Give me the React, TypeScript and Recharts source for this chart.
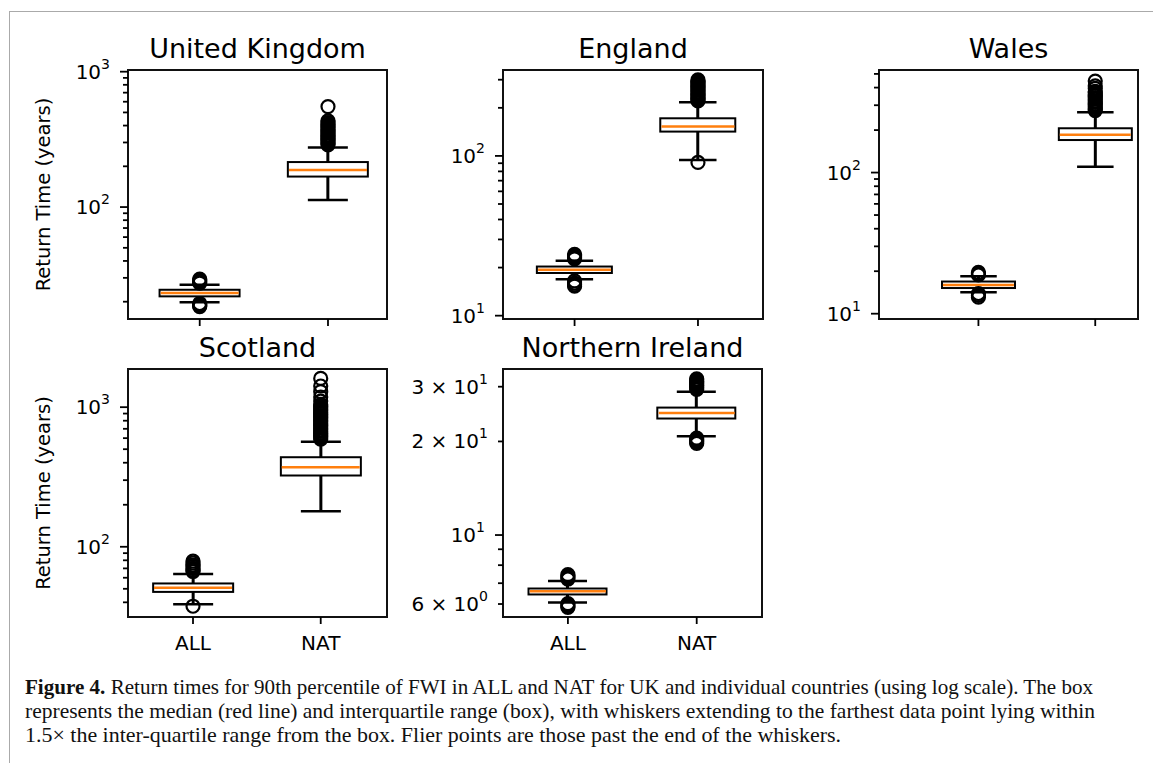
import React from "react"
import { ComposedChart, Bar, Scatter, XAxis, YAxis, ReferenceArea } from "recharts"

const groups = ["ALL", "NAT"]
const positions = [1, 2]

// United Kingdom
const ukLow = [19.8, 113]
const ukQ1 = [21.9, 168]
const ukMedian = [23.2, 188]
const ukQ3 = [24.5, 215]
const ukHigh = [26.7, 275]
const ukAllFliers = [27.4, 27.9, 28.4, 28.9, 29.4, 19.4, 19.0, 18.7, 18.4]
const ukNatFliers = [288, 295, 303, 310, 318, 326, 334, 342, 351, 360, 369, 378, 388, 398, 408, 420, 433, 552]

// England
const enLow = [16.9, 94.4]
const enQ1 = [18.5, 142]
const enMedian = [19.4, 153]
const enQ3 = [20.3, 172]
const enHigh = [22.1, 217]
const enAllFliers = [22.7, 23.2, 23.7, 24.2, 16.5, 16.0, 15.6, 15.3]
const enNatFliers = [221, 225, 229, 234, 238, 243, 247, 252, 257, 262, 267, 272, 277, 282, 288, 293, 299, 91]

// Wales
const waLow = [14.2, 110]
const waQ1 = [15.2, 170]
const waMedian = [16.0, 185]
const waQ3 = [16.9, 206]
const waHigh = [18.4, 267]
const waAllFliers = [18.8, 19.2, 19.6, 13.9, 13.5, 13.1]
const waNatFliers = [275, 282, 290, 298, 306, 314, 322, 331, 340, 349, 358, 367, 376, 395, 411, 445]

// Scotland
const scLow = [38.8, 180]
const scQ1 = [47.5, 324]
const scMedian = [50.8, 372]
const scQ3 = [54.6, 438]
const scHigh = [63.7, 565]
const scAllFliers = [66.5, 68, 70, 72, 74, 76.5, 79, 37.5]
const scNatFliers = [590, 606, 622, 637, 654, 671, 689, 707, 726, 745, 765, 785, 806, 827, 849, 871, 894, 918, 942, 967, 993, 1019, 1046, 1106, 1182, 1291, 1418, 1607]

// Northern Ireland
const niLow = [6.07, 20.8]
const niQ1 = [6.44, 23.7]
const niMedian = [6.59, 24.7]
const niQ3 = [6.73, 25.7]
const niHigh = [7.12, 28.9]
const niAllFliers = [7.22, 7.3, 7.38, 7.46, 6.02, 5.96, 5.9, 5.85]
const niNatFliers = [29.4, 29.7, 30.0, 30.3, 30.6, 30.9, 31.2, 31.5, 31.8, 20.5, 20.3, 20.1, 19.9, 19.7]

// y ticks
const ukMajorTicks = [100, 1000]
const ukMinorTicks = [20, 30, 40, 50, 60, 70, 80, 90, 200, 300, 400, 500, 600, 700, 800, 900]
const enMajorTicks = [10, 100]
const enMinorTicks = [20, 30, 40, 50, 60, 70, 80, 90, 200, 300]
const waMajorTicks = [10, 100]
const waMinorTicks = [20, 30, 40, 50, 60, 70, 80, 90, 200, 300, 400, 500]
const scMajorTicks = [100, 1000]
const scMinorTicks = [40, 50, 60, 70, 80, 90, 200, 300, 400, 500, 600, 700, 800, 900]
const niMajorTicks = [10]
const niMinorTicks = [6, 7, 8, 9, 20, 30]
const niLabelledMinor = [6, 20, 30]

const captionLines = [
  "Return times for 90th percentile of FWI in ALL and NAT for UK and individual countries (using log scale). The box",
  "represents the median (red line) and interquartile range (box), with whiskers extending to the farthest data point lying within",
  "1.5× the inter-quartile range from the box. Flier points are those past the end of the whiskers.",
]
const captionWidths = [1068, 1070, 816]

const Y_W = 120
const M_TOP = 24
const M_RIGHT = 10
const X_H = 50
const SANS = "DejaVu Sans"
const SERIF = "Liberation Serif"

type Panel = {
  title: string
  left: number
  top: number
  width: number
  height: number
  xDomain: [number, number]
  yDomain: [number, number]
  boxWidth: number
  low: number[]
  q1: number[]
  median: number[]
  q3: number[]
  high: number[]
  allFliers: number[]
  natFliers: number[]
  majorTicks: number[]
  minorTicks: number[]
  labelledMinor: number[]
  showXLabels: boolean
}

const panels: Panel[] = [
  {
    title: "United Kingdom", left: 128, top: 70, width: 259, height: 249,
    xDomain: [0.441, 2.46], yDomain: [14.9, 1029], boxWidth: 80,
    low: ukLow, q1: ukQ1, median: ukMedian, q3: ukQ3, high: ukHigh,
    allFliers: ukAllFliers, natFliers: ukNatFliers,
    majorTicks: ukMajorTicks, minorTicks: ukMinorTicks, labelledMinor: [], showXLabels: false,
  },
  {
    title: "England", left: 503, top: 70, width: 260, height: 249,
    xDomain: [0.42, 2.527], yDomain: [9.53, 345], boxWidth: 75,
    low: enLow, q1: enQ1, median: enMedian, q3: enQ3, high: enHigh,
    allFliers: enAllFliers, natFliers: enNatFliers,
    majorTicks: enMajorTicks, minorTicks: enMinorTicks, labelledMinor: [], showXLabels: false,
  },
  {
    title: "Wales", left: 879, top: 70, width: 259, height: 249,
    xDomain: [0.149, 2.366], yDomain: [9.17, 533], boxWidth: 73,
    low: waLow, q1: waQ1, median: waMedian, q3: waQ3, high: waHigh,
    allFliers: waAllFliers, natFliers: waNatFliers,
    majorTicks: waMajorTicks, minorTicks: waMinorTicks, labelledMinor: [], showXLabels: false,
  },
  {
    title: "Scotland", left: 128, top: 369, width: 259, height: 248,
    xDomain: [0.491, 2.519], yDomain: [31.4, 1877], boxWidth: 80,
    low: scLow, q1: scQ1, median: scMedian, q3: scQ3, high: scHigh,
    allFliers: scAllFliers, natFliers: scNatFliers,
    majorTicks: scMajorTicks, minorTicks: scMinorTicks, labelledMinor: [], showXLabels: true,
  },
  {
    title: "Northern Ireland", left: 503, top: 369, width: 259, height: 248,
    xDomain: [0.496, 2.507], yDomain: [5.45, 34.2], boxWidth: 78,
    low: niLow, q1: niQ1, median: niMedian, q3: niQ3, high: niHigh,
    allFliers: niAllFliers, natFliers: niNatFliers,
    majorTicks: niMajorTicks, minorTicks: niMinorTicks, labelledMinor: niLabelledMinor, showXLabels: true,
  },
]

function sciLabel(v: number) {
  const exp = Math.floor(Math.log10(v) + 1e-9)
  const m = Math.round(v / Math.pow(10, exp))
  return { base: m === 1 ? "10" : `${m} × 10`, exp: String(exp) }
}

function LogTick(props: any) {
  const { x, y, payload, majors, labelled } = props
  const v = payload.value
  const isMajor = majors.includes(v)
  const len = isMajor ? 8 : 5
  const showLabel = isMajor || labelled.includes(v)
  const lab = sciLabel(v)
  return (
    <g>
      <line x1={x - len} x2={x} y1={y} y2={y} stroke="#000" strokeWidth={1.8} />
      {showLabel && (
        <text x={x - len - 10} y={y + 7} textAnchor="end" fontFamily={SANS} fontSize={20} fill="#000">
          {lab.base}
          <tspan dy={-10} fontSize={14}>{lab.exp}</tspan>
        </text>
      )}
    </g>
  )
}

function XTick(props: any) {
  const { x, y, payload, show } = props
  if (!show) return <g />
  return (
    <text x={x} y={y + 26} textAnchor="middle" fontFamily={SANS} fontSize={20} fill="#000">
      {groups[payload.value - 1]}
    </text>
  )
}

function WhiskerShape(props: any) {
  const { x, y, width, height } = props
  const top = Math.min(y, y + height)
  const bottom = Math.max(y, y + height)
  const cx = x + width / 2
  const cap = width / 4
  return (
    <g>
      <line x1={cx} x2={cx} y1={top} y2={bottom} stroke="#000" strokeWidth={3} />
      <line x1={cx - cap} x2={cx + cap} y1={top} y2={top} stroke="#000" strokeWidth={2.5} />
      <line x1={cx - cap} x2={cx + cap} y1={bottom} y2={bottom} stroke="#000" strokeWidth={2.5} />
    </g>
  )
}

function BoxShape(props: any) {
  const { x, y, width, height } = props
  return (
    <rect
      x={x}
      y={Math.min(y, y + height)}
      width={width}
      height={Math.abs(height)}
      fill="#fff"
      stroke="#000"
      strokeWidth={2}
    />
  )
}

function BoxPanel({ p }: { p: Panel }) {
  const rows = positions.map((x, i) => ({
    x,
    whisker: [p.low[i], p.high[i]],
    box: [p.q1[i], p.q3[i]],
    median: p.median[i],
  }))
  const fliers = [
    ...p.allFliers.map((y) => ({ x: positions[0], y })),
    ...p.natFliers.map((y) => ({ x: positions[1], y })),
  ]
  const half = p.boxWidth / 2

  return (
    <div style={{ position: "absolute", left: p.left - Y_W, top: p.top - M_TOP }}>
      <ComposedChart
        width={Y_W + p.width + M_RIGHT}
        height={M_TOP + p.height + X_H}
        data={rows}
        margin={{ top: M_TOP, right: M_RIGHT, bottom: 0, left: 0 }}
      >
        <XAxis
          xAxisId="main"
          dataKey="x"
          type="number"
          domain={p.xDomain}
          allowDataOverflow
          ticks={positions}
          interval={0}
          height={X_H}
          axisLine={false}
          stroke="#000"
          tickLine={{ stroke: "#000", strokeWidth: 1.8 }}
          tickSize={7}
          tickMargin={0}
          tick={<XTick show={p.showXLabels} />}
        />
        <XAxis xAxisId="w" dataKey="x" type="number" domain={p.xDomain} allowDataOverflow hide height={0} />
        <XAxis xAxisId="b" dataKey="x" type="number" domain={p.xDomain} allowDataOverflow hide height={0} />
        <YAxis
          type="number"
          scale="log"
          domain={p.yDomain}
          allowDataOverflow
          ticks={[...p.minorTicks, ...p.majorTicks]}
          interval={0}
          width={Y_W}
          axisLine={false}
          tickLine={false}
          tickSize={0}
          tickMargin={0}
          tick={<LogTick majors={p.majorTicks} labelled={p.labelledMinor} />}
        />
        <Bar xAxisId="w" dataKey="whisker" barSize={p.boxWidth} shape={WhiskerShape} isAnimationActive={false} />
        <Bar xAxisId="b" dataKey="box" barSize={p.boxWidth} shape={BoxShape} isAnimationActive={false} />
        <Scatter
          xAxisId="main"
          dataKey="median"
          isAnimationActive={false}
          shape={(s: any) => (
            <line x1={s.cx - half + 1} x2={s.cx + half - 1} y1={s.cy} y2={s.cy} stroke="#ff7f0e" strokeWidth={2.5} />
          )}
        />
        <Scatter
          xAxisId="main"
          data={fliers}
          dataKey="y"
          isAnimationActive={false}
          shape={(s: any) => <circle cx={s.cx} cy={s.cy} r={6.5} fill="none" stroke="#000" strokeWidth={2.2} />}
        />
        <ReferenceArea
          xAxisId="main"
          x1={p.xDomain[0]}
          x2={p.xDomain[1]}
          y1={p.yDomain[0]}
          y2={p.yDomain[1]}
          fill="none"
          fillOpacity={0}
          stroke="#111"
          strokeWidth={2}
          ifOverflow="visible"
        />
      </ComposedChart>
    </div>
  )
}

export default function App() {
  return (
    <div style={{ position: "absolute", left: 0, top: 0, width: 1153, height: 763, background: "#fff", overflow: "hidden" }}>
      <div
        style={{
          position: "absolute",
          left: 9,
          top: 11,
          width: 1160,
          height: 760,
          borderTop: "1.5px solid #aaa",
          borderLeft: "1.5px solid #aaa",
        }}
      />
      {panels.map((p) => (
        <BoxPanel key={p.title} p={p} />
      ))}
      <svg width={1153} height={763} style={{ position: "absolute", left: 0, top: 0, pointerEvents: "none" }}>
        {panels.map((p) => (
          <text
            key={p.title}
            x={p.left + p.width / 2}
            y={p.top - 12}
            textAnchor="middle"
            fontFamily={SANS}
            fontSize={27}
            fill="#000"
          >
            {p.title}
          </text>
        ))}
        {[panels[0], panels[3]].map((p) => (
          <text
            key={"yl" + p.title}
            transform={`translate(50 ${p.top + p.height / 2}) rotate(-90)`}
            textAnchor="middle"
            fontFamily={SANS}
            fontSize={19.5}
            fill="#000"
          >
            Return Time (years)
          </text>
        ))}
        <text
          x={25}
          y={694}
          fontFamily={SERIF}
          fontSize={21.5}
          fill="#111"
          textLength={captionWidths[0]}
          lengthAdjust="spacingAndGlyphs"
        >
          <tspan fontWeight="bold">Figure 4.</tspan> {captionLines[0]}
        </text>
        <text
          x={25}
          y={718}
          fontFamily={SERIF}
          fontSize={21.5}
          fill="#111"
          textLength={captionWidths[1]}
          lengthAdjust="spacingAndGlyphs"
        >
          {captionLines[1]}
        </text>
        <text
          x={25}
          y={742}
          fontFamily={SERIF}
          fontSize={21.5}
          fill="#111"
          textLength={captionWidths[2]}
          lengthAdjust="spacingAndGlyphs"
        >
          {captionLines[2]}
        </text>
      </svg>
    </div>
  )
}
